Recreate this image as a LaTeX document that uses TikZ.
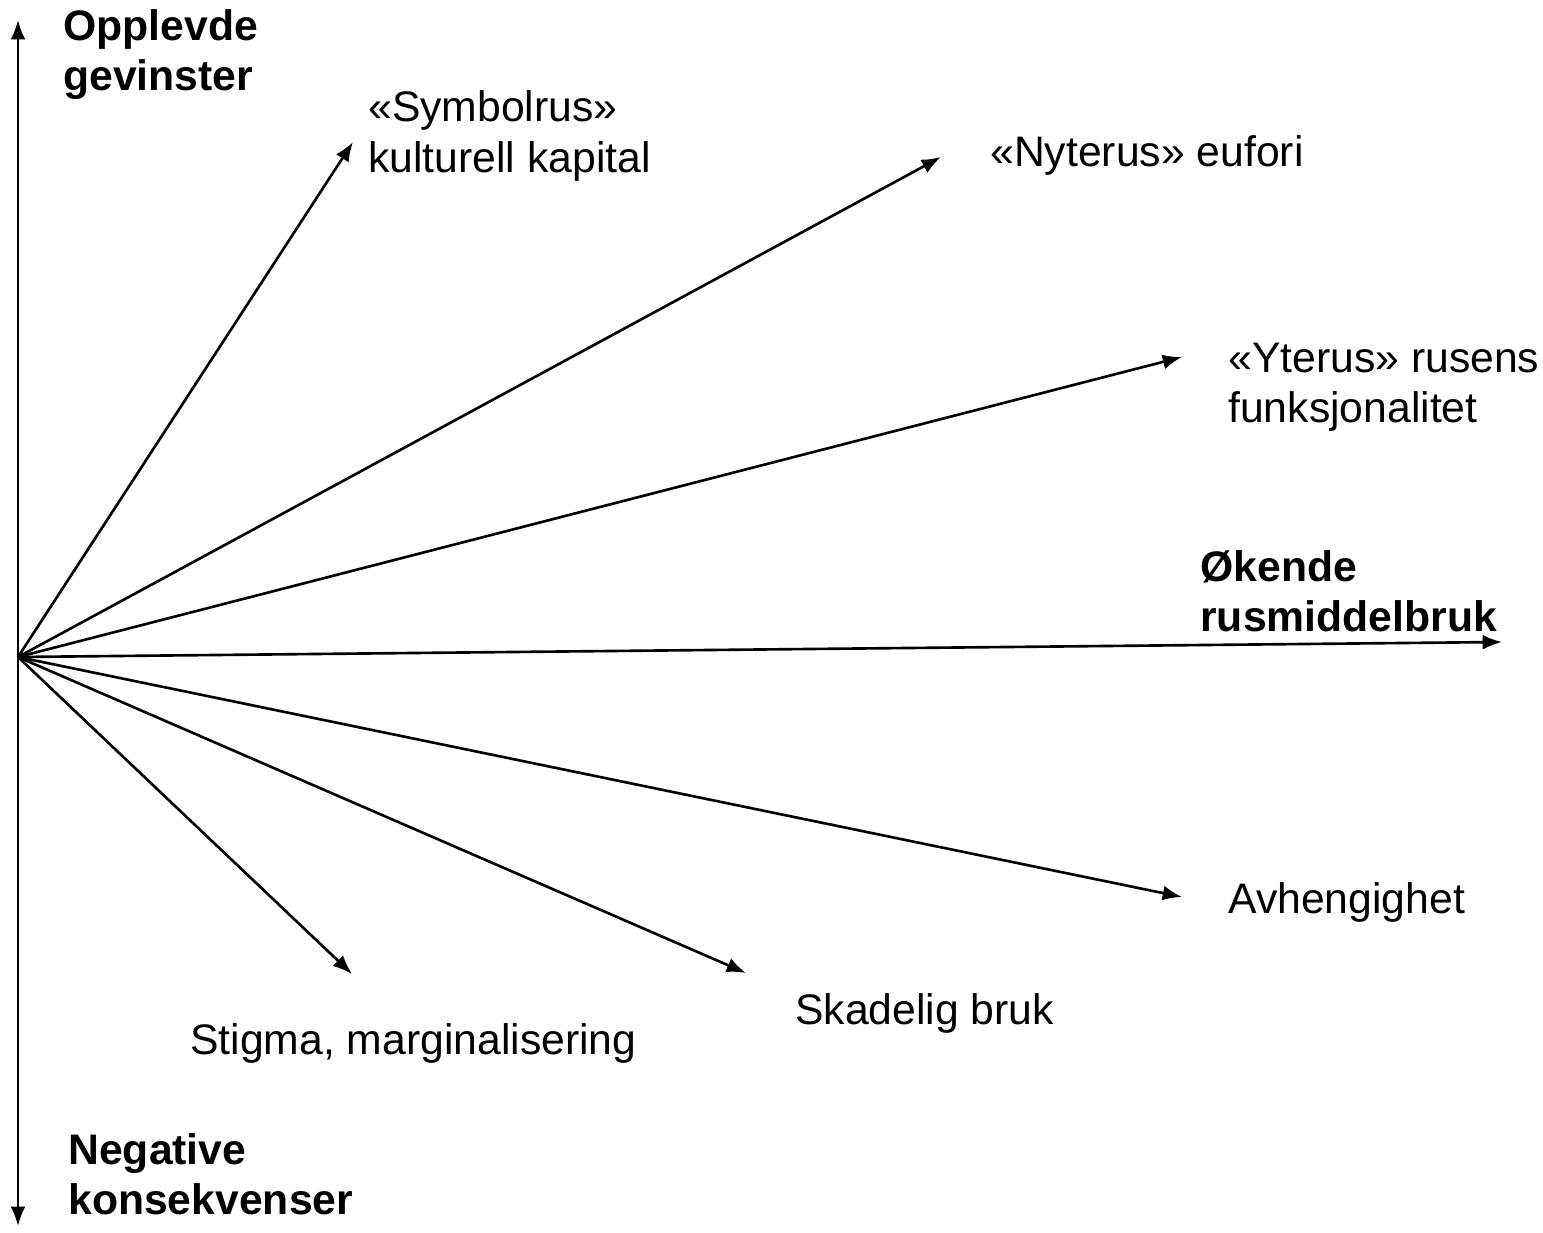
\documentclass[tikz,border=0pt]{standalone}
\usepackage{fontspec}
\setmainfont{Liberation Sans}
\usetikzlibrary{positioning,arrows.meta}
\tikzset{
    lbl/.style={anchor=west,align=left,inner sep=0pt,font=\fontsize{24.3}{28.5}\selectfont},
    bold lbl/.style={lbl,font=\fontsize{24.3}{28.5}\selectfont\bfseries},
    ray/.style={->,line width=1.5pt}
}
\begin{document}
\begin{tikzpicture}[>={Latex[length=11pt,width=8.5pt]},x=0.02cm,y=-0.02cm]
        \useasboundingbox (0,0) rectangle (1543,1233);
        % axes
        \coordinate (O) at (18,657);
        \coordinate (top) at (18,20);
        \coordinate (bot) at (18,1226);
        \draw[<->,line width=1.5pt] (top) -- (bot);
        % arrow ends
        \coordinate (symb) at (353,142);
        \coordinate (nyte) at (941,157);
        \coordinate (yter) at (1182,357);
        \coordinate (okende) at (1502,642);
        \coordinate (avhe) at (1182,897);
        \coordinate (skad) at (746,973);
        \coordinate (stig) at (352,974);
        \foreach \e in {symb,nyte,yter,okende,avhe,skad,stig}
            {
                \draw[ray] (O) -- (\e);
            }
        % labels
        \node[bold lbl] (gevinst) at (63,55) {Opplevde\\gevinster};
        \node[bold lbl] (negativ) at (68,1174) {Negative\\konsekvenser};
        \node[lbl] (symbtxt) at (368,136) {«Symbolrus»\\kulturell kapital};
        \node[lbl] (nytetxt) at (990,155) {«Nyterus» eufori};
        \node[lbl] (ytertxt) at (1228,387) {«Yterus» rusens\\funksjonalitet};
        \node[bold lbl] (okendetxt) at (1200,591) {Økende\\rusmiddelbruk};
        \node[lbl] (avhetxt) at (1228,902) {Avhengighet};
        \node[lbl] (skadtxt) at (795,1013) {Skadelig bruk};
        \node[lbl] (stigtxt) at (190,1043) {Stigma, marginalisering};
    \end{tikzpicture}
\end{document}
